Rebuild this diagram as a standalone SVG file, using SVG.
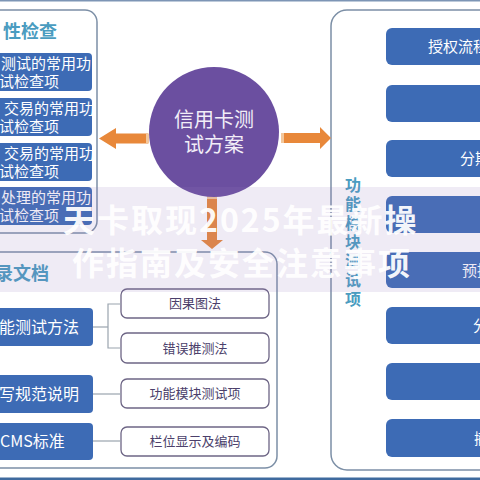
<svg xmlns="http://www.w3.org/2000/svg" width="480" height="480" viewBox="0 0 480 480">
<defs>
<style>
text{font-family:"Noto Sans CJK SC","Liberation Sans",sans-serif;}
.panel{fill:#ffffff;stroke:#7c8fa6;stroke-width:1.5;}
.blue{fill:#3d6bb5;}
.wt{fill:#ffffff;font-size:15px;}
.wtb{fill:#ffffff;font-size:16px;}
.title{fill:#4a9cc0;font-weight:bold;}
.sub{fill:#ffffff;stroke:#6d6585;stroke-width:1.3;}
.subt{fill:#4b3f6b;font-size:13px;text-anchor:middle;}
.conn{fill:none;stroke:#9aa4ae;stroke-width:1.2;}
.arrow{fill:#e8883a;}
</style>
</defs>
<rect x="0" y="0" width="480" height="480" fill="#ffffff"/>
<rect x="0" y="0" width="480" height="1.5" fill="#7d95b5"/>
<rect x="0" y="477.5" width="480" height="2.5" fill="#3f6a9e"/>

<g id="panel-left-top">
<rect class="panel" x="-20" y="10" width="117" height="223" rx="12"/>
<text class="title" x="3" y="38" font-size="18">性检查</text>
<rect class="blue" x="-6" y="53" width="98" height="38" rx="4"/>
<text class="wt" x="1" y="69">测试的常用功</text>
<text class="wt" x="-1" y="87">试检查项</text>
<rect class="blue" x="-6" y="98" width="98" height="38" rx="4"/>
<text class="wt" x="4" y="114">交易的常用功</text>
<text class="wt" x="-1" y="132">试检查项</text>
<rect class="blue" x="-6" y="143" width="98" height="38" rx="4"/>
<text class="wt" x="4" y="159">交易的常用功</text>
<text class="wt" x="-1" y="177">试检查项</text>
<rect class="blue" x="-6" y="187" width="98" height="38" rx="4"/>
<text class="wt" x="1" y="203">处理的常用功</text>
<text class="wt" x="-1" y="221">试检查项</text>
</g>

<g id="panel-left-bottom">
<rect class="panel" x="-20" y="252" width="297" height="216" rx="12"/>
<text class="title" x="-5" y="280" font-size="18">录文档</text>
<rect class="blue" x="-6" y="308" width="99" height="38" rx="4"/>
<text class="wtb" x="-1" y="333">能测试方法</text>
<rect class="blue" x="-6" y="375" width="99" height="38" rx="4"/>
<text class="wtb" x="-1" y="400">写规范说明</text>
<rect class="blue" x="-6" y="423" width="99" height="37" rx="4"/>
<text class="wtb" x="0" y="447">CMS标准</text>
</g>

<g id="sub-boxes">
<rect class="sub" x="121" y="289" width="148" height="29" rx="6"/>
<text class="subt" x="195" y="308">因果图法</text>
<rect class="sub" x="121" y="333" width="148" height="30" rx="6"/>
<text class="subt" x="195" y="353">错误推测法</text>
<rect class="sub" x="121" y="379" width="148" height="29" rx="6"/>
<text class="subt" x="195" y="398">功能模块测试项</text>
<rect class="sub" x="121" y="427" width="148" height="29" rx="6"/>
<text class="subt" x="195" y="446">栏位显示及编码</text>
</g>

<g id="panel-right">
<rect class="panel" x="331" y="10" width="200" height="460" rx="16"/>
<text class="title" font-size="16" text-anchor="middle">
<tspan x="353" y="190.5">功</tspan><tspan x="353" y="209.5">能</tspan><tspan x="353" y="228.5">模</tspan><tspan x="353" y="247.5">块</tspan><tspan x="353" y="266.5">测</tspan><tspan x="353" y="285.5">试</tspan><tspan x="353" y="304.5">项</tspan>
</text>
<rect class="blue" x="386" y="28" width="120" height="37" rx="6"/>
<text class="wt" x="428" y="52">授权流程</text>
<rect class="blue" x="386" y="85" width="120" height="37" rx="6"/>
<rect class="blue" x="386" y="140" width="120" height="37" rx="6"/>
<text class="wt" x="460" y="164">分期</text>
<rect class="blue" x="386" y="196" width="120" height="37" rx="6"/>
<rect class="blue" x="386" y="252" width="120" height="36" rx="6"/>
<text class="wt" x="462" y="276">预授权</text>
<rect class="blue" x="386" y="307" width="120" height="37" rx="6"/>
<text class="wt" x="473" y="331">分</text>
<rect class="blue" x="386" y="363" width="120" height="37" rx="6"/>
<rect class="blue" x="386" y="419" width="120" height="38" rx="6"/>
<text class="wt" x="474" y="444">撤</text>
</g>

<g id="connectors">
<polyline class="conn" points="93,327 108,327"/>
<polyline class="conn" points="121,304 108,304 108,348 121,348"/>
<line class="conn" x1="93" y1="394" x2="121" y2="394"/>
<line class="conn" x1="93" y1="441" x2="121" y2="441"/>
<polygon class="arrow" points="148,133.5 116,133.5 116,128 99,138.5 116,149 116,143.5 148,143.5"/>
<polygon class="arrow" points="281,133 320,133 320,127 331,138 320,149 320,143 281,143"/>
<polygon class="arrow" points="207,196 217,196 217,240 223,240 212,249 201,240 207,240"/>
<rect x="146" y="133.5" width="3" height="10" fill="#f3c79c"/>
<rect x="281" y="133" width="3" height="10" fill="#f3c79c"/>
<rect x="207" y="196" width="10" height="3" fill="#f3c79c"/>
</g>

<g id="center">
<circle cx="214" cy="132" r="65" fill="#6b4fa0"/>
<text x="214" y="127" font-size="20" fill="#f2eef8" text-anchor="middle">信用卡测</text>
<text x="214" y="152" font-size="20" fill="#f2eef8" text-anchor="middle">试方案</text>
</g>

<g id="watermark">
<rect x="0" y="187" width="480" height="105" fill="#9678be" fill-opacity="0.15"/>
<text x="63" y="232" font-size="32" font-weight="bold" letter-spacing="2" fill="#ffffff" fill-opacity="0.95">天卡取现2025年最新操</text>
<text x="72" y="275" font-size="32" font-weight="bold" letter-spacing="2" fill="#ffffff" fill-opacity="0.95">作指南及安全注意事项</text>
</g>
</svg>
